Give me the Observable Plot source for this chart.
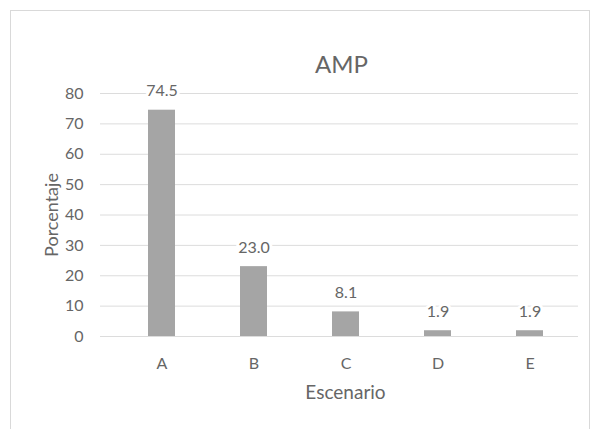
<!DOCTYPE html>
<html>
<head>
<meta charset="utf-8">
<script src="https://cdn.jsdelivr.net/npm/d3@7"></script>
<script src="https://cdn.jsdelivr.net/npm/@observablehq/plot@0.6"></script>
<style>
  html, body { margin: 0; padding: 0; background: #fff; }
  #chart { width: 594px; height: 429px; position: relative; }
</style>
</head>
<body>
<div id="chart"></div>
<script>
const categories = ["A", "B", "C", "D", "E"];
const values = [74.5, 23.0, 8.1, 1.9, 1.9];
const labels = ["74.5", "23.0", "8.1", "1.9", "1.9"];
const yTicks = [0, 10, 20, 30, 40, 50, 60, 70, 80];
const title = "AMP";
const xTitle = "Escenario";
const yTitle = "Porcentaje";

const data = categories.map((c, i) => ({cat: c, value: values[i], label: labels[i]}));
const font = "Lato, 'Open Sans', sans-serif";
const grey = "#666666";

const plot = Plot.plot({
  width: 594,
  height: 429,
  marginLeft: 113,
  marginRight: 17,
  marginTop: 93,
  marginBottom: 93,
  style: {fontFamily: font, fontSize: "16px", color: grey, background: "#fff", overflow: "visible"},
  x: {domain: categories, paddingInner: 0.71, paddingOuter: 0.355, label: null, tickSize: 0, tickPadding: 21},
  y: {domain: [0, 80], ticks: yTicks, label: null, tickSize: 0, tickPadding: 30},
  marks: [
    Plot.ruleY(yTicks, {stroke: "#dcdcdc", strokeWidth: 1, insetLeft: -13, insetRight: -1}),
    Plot.barY(data, {x: "cat", y: "value", fill: "#a5a5a5"}),
    Plot.text(data, {x: "cat", y: "value", text: "label", dy: -19, fill: grey, stroke: "white", strokeWidth: 6, fontSize: 16}),
    Plot.text([title], {frameAnchor: "top", text: d => d, dy: -38, dx: -4, fontSize: 24, fill: grey}),
    Plot.text([xTitle], {frameAnchor: "bottom", text: d => d, dy: 62, fontSize: 19, fill: grey}),
    Plot.text([yTitle], {frameAnchor: "left", textAnchor: "middle", text: d => d, dx: -61, dy: 0, rotate: -90, fontSize: 18, fill: grey})
  ]
});
document.getElementById("chart").appendChild(plot);

// chart area border
const svg = d3.select(plot);
svg.insert("rect", ":first-child")
  .attr("x", 10.5).attr("y", 10.5)
  .attr("width", 579).attr("height", 430)
  .attr("fill", "#fff").attr("stroke", "#d9d9d9").attr("stroke-width", 1);
</script>
</body>
</html>
